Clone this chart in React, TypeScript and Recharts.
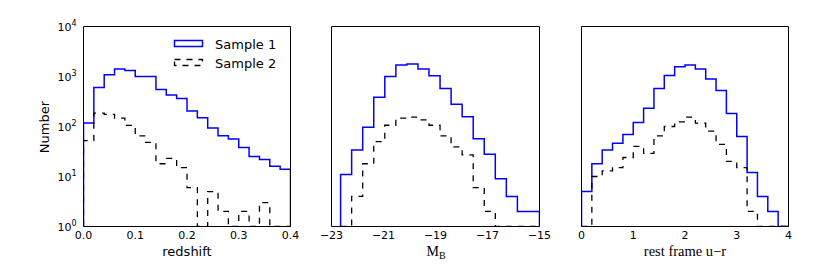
import { LineChart, Line, XAxis, YAxis } from 'recharts'

// histogram bin edges and counts
const REDSHIFT_EDGES = [0, 0.02, 0.04, 0.06, 0.08, 0.1, 0.12, 0.14, 0.16, 0.18, 0.2, 0.22, 0.24, 0.26, 0.28, 0.3, 0.32, 0.34, 0.36, 0.38, 0.4]
const REDSHIFT_SAMPLE1 = [117, 600, 1080, 1420, 1320, 1000, 1000, 550, 425, 363, 204, 149, 93, 65, 56, 38, 25, 22, 16, 14]
const REDSHIFT_SAMPLE2 = [52, 185, 174, 147, 105, 65, 48, 18, 23, 15, 6, 0, 5, 2, 0, 2, 0, 3, 0, 0]

const MB_EDGES = [-22.65, -22.225, -21.8, -21.375, -20.95, -20.525, -20.1, -19.675, -19.25, -18.825, -18.4, -17.975, -17.55, -17.125, -16.7, -16.275, -15.85, -15.425, -15.0]
const MB_SAMPLE1 = [11, 34, 97, 385, 1000, 1690, 1770, 1410, 1030, 575, 280, 156, 57, 28, 9, 4, 2, 2]
const MB_SAMPLE2 = [0, 4, 18, 50, 106, 147, 154, 136, 106, 65, 39, 27, 6, 2, 0, 0, 0, 0]

const UR_EDGES = [0, 0.2, 0.4, 0.6, 0.8, 1.0, 1.2, 1.4, 1.6, 1.8, 2.0, 2.2, 2.4, 2.6, 2.8, 3.0, 3.2, 3.4, 3.6, 3.8, 4.0]
const UR_SAMPLE1 = [5, 18, 34, 46, 69, 120, 232, 575, 1050, 1560, 1690, 1420, 890, 525, 182, 63, 12, 4, 2, 0]
const UR_SAMPLE2 = [0, 10, 13, 15, 24, 40, 29, 65, 100, 124, 154, 117, 81, 44, 20, 15, 2, 0, 0, 0]

const REDSHIFT_TICKS = [0, 0.1, 0.2, 0.3, 0.4]
const MB_TICKS = [-23, -21, -19, -17, -15]
const UR_TICKS = [0, 1, 2, 3, 4]
const DECADES = [1, 10, 100, 1000, 10000]
const SERIES_NAMES = ['Sample 1', 'Sample 2']

const MINOR = DECADES.slice(0, -1).flatMap((d) => [2, 3, 4, 5, 6, 7, 8, 9].map((m) => m * d))

const W = 830
const H = 277
const TOP = 26.5
const PLOT_H = 200
const YW = 40
const XH = 30
const SANS = 'DejaVu Sans'
const SERIF = 'Liberation Serif'

// matplotlib-style step outline; empty bins sit on the bottom of the log axis
function stepData(edges: number[], counts: number[]) {
  const clip = (v: number) => Math.max(v, 1)
  const pts = [{ x: edges[0], y: 1 }]
  counts.forEach((c, i) => pts.push({ x: edges[i], y: clip(c) }))
  pts.push({ x: edges[edges.length - 1], y: clip(counts[counts.length - 1]) })
  pts.push({ x: edges[edges.length - 1], y: 1 })
  return pts
}

const fmtRedshift = (v: number) => v.toFixed(1)
const fmtMag = (v: number) => (v < 0 ? '\u2212' + Math.abs(v) : String(v))
const fmtInt = (v: number) => String(v)

// eslint-disable-next-line @typescript-eslint/no-explicit-any
function XTick({ x, y, payload, fmt }: any) {
  return (
    <text x={x} y={y + 12.5} textAnchor="middle" fontSize={11} fontFamily={SANS} fill="#000">
      {fmt(payload.value)}
    </text>
  )
}

// eslint-disable-next-line @typescript-eslint/no-explicit-any
function YTick({ x, y, payload }: any) {
  const exp = Math.round(Math.log10(payload.value))
  return (
    <text x={x - 7} y={y + 4} textAnchor="end" fontSize={11} fontFamily={SANS} fill="#000">
      <tspan>10</tspan>
      <tspan dy={-4.5} fontSize={8}>{exp}</tspan>
    </text>
  )
}

interface PanelProps {
  left: number
  width: number
  edges: number[]
  s1: number[]
  s2: number[]
  domain: [number, number]
  ticks: number[]
  fmt: (v: number) => string
  yLabels?: boolean
}

function Panel({ left, width, edges, s1, s2, domain, ticks, fmt, yLabels }: PanelProps) {
  const margin = {
    top: TOP,
    bottom: H - TOP - PLOT_H - XH,
    left: left - YW,
    right: W - left - width,
  }
  const yCommon = {
    type: 'number' as const,
    scale: 'log' as const,
    domain: [1, 10000],
    allowDataOverflow: true,
    stroke: '#000',
  }
  const xCommon = {
    type: 'number' as const,
    domain,
    allowDataOverflow: true,
    stroke: '#000',
    ticks,
  }
  return (
    <div style={{ position: 'absolute', left: 0, top: 0 }}>
      <LineChart width={W} height={H} margin={margin}>
        <XAxis
          xAxisId="main"
          dataKey="x"
          {...xCommon}
          height={XH}
          tickSize={0}
          tickMargin={0}
          axisLine={false}
          tickLine={false}
          tick={<XTick fmt={fmt} />}
        />
        <XAxis xAxisId="bottom" {...xCommon} orientation="bottom" mirror tickSize={4} tick={false} />
        <XAxis xAxisId="top" {...xCommon} orientation="top" mirror tickSize={4} tick={false} />

        <YAxis
          yAxisId="main"
          {...yCommon}
          ticks={DECADES}
          width={YW}
          tickSize={0}
          tickMargin={0}
          axisLine={false}
          tickLine={false}
          tick={yLabels ? <YTick /> : false}
        />
        <YAxis yAxisId="lmaj" {...yCommon} ticks={DECADES} orientation="left" mirror tickSize={4} tick={false} />
        <YAxis yAxisId="lmin" {...yCommon} ticks={MINOR} orientation="left" mirror tickSize={2} tick={false} axisLine={false} />
        <YAxis yAxisId="rmaj" {...yCommon} ticks={DECADES} orientation="right" mirror tickSize={4} tick={false} />
        <YAxis yAxisId="rmin" {...yCommon} ticks={MINOR} orientation="right" mirror tickSize={2} tick={false} axisLine={false} />

        <Line
          xAxisId="main"
          yAxisId="main"
          name={SERIES_NAMES[0]}
          data={stepData(edges, s1)}
          dataKey="y"
          type="stepAfter"
          stroke="#0000ff"
          strokeWidth={1.5}
          dot={false}
          activeDot={false}
          isAnimationActive={false}
        />
        <Line
          xAxisId="main"
          yAxisId="main"
          name={SERIES_NAMES[1]}
          data={stepData(edges, s2)}
          dataKey="y"
          type="stepAfter"
          stroke="#000"
          strokeWidth={1.3}
          strokeDasharray="6 6"
          dot={false}
          activeDot={false}
          isAnimationActive={false}
        />
      </LineChart>
    </div>
  )
}

function Titles() {
  return (
    <svg width={W} height={H} style={{ position: 'absolute', left: 0, top: 0, pointerEvents: 'none' }}>
      <text x={44} y={127} transform="rotate(-90 44 127)" textAnchor="middle" dominantBaseline="central" fontSize={13} fontFamily={SANS}>
        Number
      </text>
      <text x={187} y={256} textAnchor="middle" fontSize={13} fontFamily={SANS}>redshift</text>
      <text x={436} y={256} textAnchor="middle" fontSize={14} fontFamily={SERIF}>
        <tspan>M</tspan>
        <tspan dy={3} fontSize={10}>B</tspan>
      </text>
      <text x={685} y={256} textAnchor="middle" fontSize={14.5} fontFamily={SERIF}>rest frame u{'\u2212'}r</text>

      {/* legend */}
      <rect x={174.5} y={40.5} width={28} height={6} fill="none" stroke="#0000ff" strokeWidth={1.5} />
      <text x={215} y={48.5} fontSize={13} fontFamily={SANS}>{SERIES_NAMES[0]}</text>
      <rect x={174.5} y={59.5} width={28} height={6} fill="none" stroke="#000" strokeWidth={1.3} strokeDasharray="6 6" />
      <text x={215} y={67.5} fontSize={13} fontFamily={SANS}>{SERIES_NAMES[1]}</text>
    </svg>
  )
}

export default function App() {
  return (
    <div style={{ position: 'absolute', left: 0, top: 0, width: W, height: H, background: '#fff' }}>
      <Panel left={83.5} width={207} edges={REDSHIFT_EDGES} s1={REDSHIFT_SAMPLE1} s2={REDSHIFT_SAMPLE2}
        domain={[0, 0.4]} ticks={REDSHIFT_TICKS} fmt={fmtRedshift} yLabels />
      <Panel left={331.5} width={208} edges={MB_EDGES} s1={MB_SAMPLE1} s2={MB_SAMPLE2}
        domain={[-23, -15]} ticks={MB_TICKS} fmt={fmtMag} />
      <Panel left={581.5} width={207} edges={UR_EDGES} s1={UR_SAMPLE1} s2={UR_SAMPLE2}
        domain={[0, 4]} ticks={UR_TICKS} fmt={fmtInt} />
      <Titles />
    </div>
  )
}
